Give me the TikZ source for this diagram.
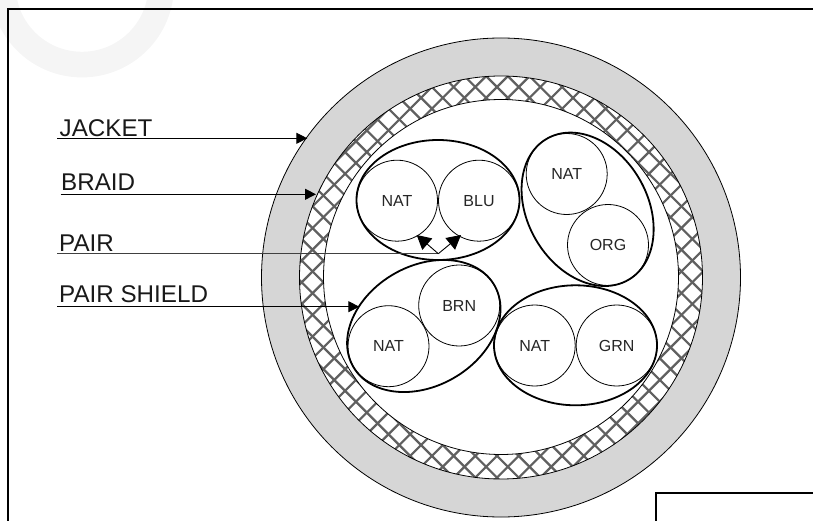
\documentclass[tikz,border=0pt]{standalone}
\usepackage{fontspec}
\setmainfont{Liberation Sans}
\usetikzlibrary{arrows.meta,shapes.geometric}
\definecolor{jacketgray}{HTML}{D6D6D6}
\definecolor{hatchgray}{HTML}{606060}
\definecolor{markgray}{HTML}{F5F5F5}
\tikzset{
  frameline/.style={draw=black,line width=2pt},
  ringline/.style={draw=black,line width=0.8pt},
  hatchline/.style={draw=hatchgray,line width=2.2pt},
  wire/.style={circle,draw=black,line width=0.8pt,inner sep=0pt,minimum size=81pt,font=\fontsize{16}{18}\selectfont,text=black!85},
  shield/.style={ellipse,draw=black,line width=1.8pt,inner sep=0pt,minimum width=163pt,minimum height=120pt},
  calllabel/.style={anchor=base west,inner sep=0pt,font=\fontsize{24.2}{26}\selectfont,text=black!90},
  leader/.style={draw=black,line width=0.9pt,-{Triangle[length=11pt,width=11pt]}},
  forkleader/.style={draw=black,line width=0.9pt,-{Triangle[length=14pt,width=15pt]}},
  leaderplain/.style={draw=black!75,line width=1.1pt},
}
\begin{document}
\begin{tikzpicture}[x=1pt,y=-1pt]
\useasboundingbox (0,0) rectangle (813,521);
\begin{scope}
\clip (0,0) rectangle (813,521);
% watermark
\fill[markgray,even odd rule] (82,-14.6) circle (92) (82,-14.6) circle (66.4);
% frame
\draw[frameline] (8,530) -- (8,9) -- (820,9);
\draw[frameline] (656,530) -- (656,493) -- (820,493);
% cable rings
\fill[jacketgray] (501,277.5) circle (239.5);
\fill[white] (501,277.5) circle (201.5);
\begin{scope}
\clip (501,277.5) circle (201.5);
\foreach \k in {-30,...,30}{
  \draw[hatchline] (497+\k*21.7,87) ++(-600,-600) -- ++(1200,1200);
  \draw[hatchline] (497+\k*21.7,87) ++(-600,600) -- ++(1200,-1200);
}
\end{scope}
\fill[white] (501,277) circle (177.5);
\draw[ringline] (501,277.5) circle (239.5);
\draw[ringline] (501,277.5) circle (201.5);
\draw[ringline] (501,277) circle (177.5);
\end{scope}
% shields and wires
\node[shield] (sa) at (438,200) {};
\node[shield,rotate=-60] (sb) at (587.6,209.3) {};
\node[shield,rotate=30] (sc) at (423.8,326) {};
\node[shield] (sd) at (575.5,345.3) {};
\node[wire] (natA) at (397,200.7) {NAT};
\node[wire] (blu) at (479,200.7) {BLU};
\node[wire] (natB) at (566.7,174) {NAT};
\node[wire] (org) at (608,245) {ORG};
\node[wire] (natC) at (388.5,346.2) {NAT};
\node[wire] (brn) at (459.2,305.5) {BRN};
\node[wire] (natD) at (534.7,345.5) {NAT};
\node[wire] (grn) at (616.7,345.5) {GRN};
% labels
\node[calllabel] (jacket) at (59.5,136.7) {JACKET};
\node[calllabel] (braid) at (61,190.7) {BRAID};
\node[calllabel] (pair) at (59,251.7) {PAIR};
\node[calllabel] (pairshield) at (59,302.3) {PAIR SHIELD};
% leader ends
\coordinate (jacketstart) at (57.3,138.3);
\coordinate (jackettip) at (307.3,138.3);
\coordinate (braidstart) at (60.7,194.3);
\coordinate (braidtip) at (316,194.3);
\coordinate (pairstart) at (57.3,253.7);
\coordinate (pairfork) at (438.3,253.7);
\coordinate (pairtipA) at (416.7,235);
\coordinate (pairtipB) at (461,235);
\coordinate (shieldstart) at (57.3,306.7);
\coordinate (shieldtip) at (359.3,306.7);
\draw[leader] (jacketstart) -- (jackettip);
\draw[leader] (braidstart) -- (braidtip);
\draw[leaderplain] (pairstart) -- (pairfork);
\draw[forkleader] (pairfork) -- (pairtipA);
\draw[forkleader] (pairfork) -- (pairtipB);
\draw[leader] (shieldstart) -- (shieldtip);
\end{tikzpicture}
\end{document}
